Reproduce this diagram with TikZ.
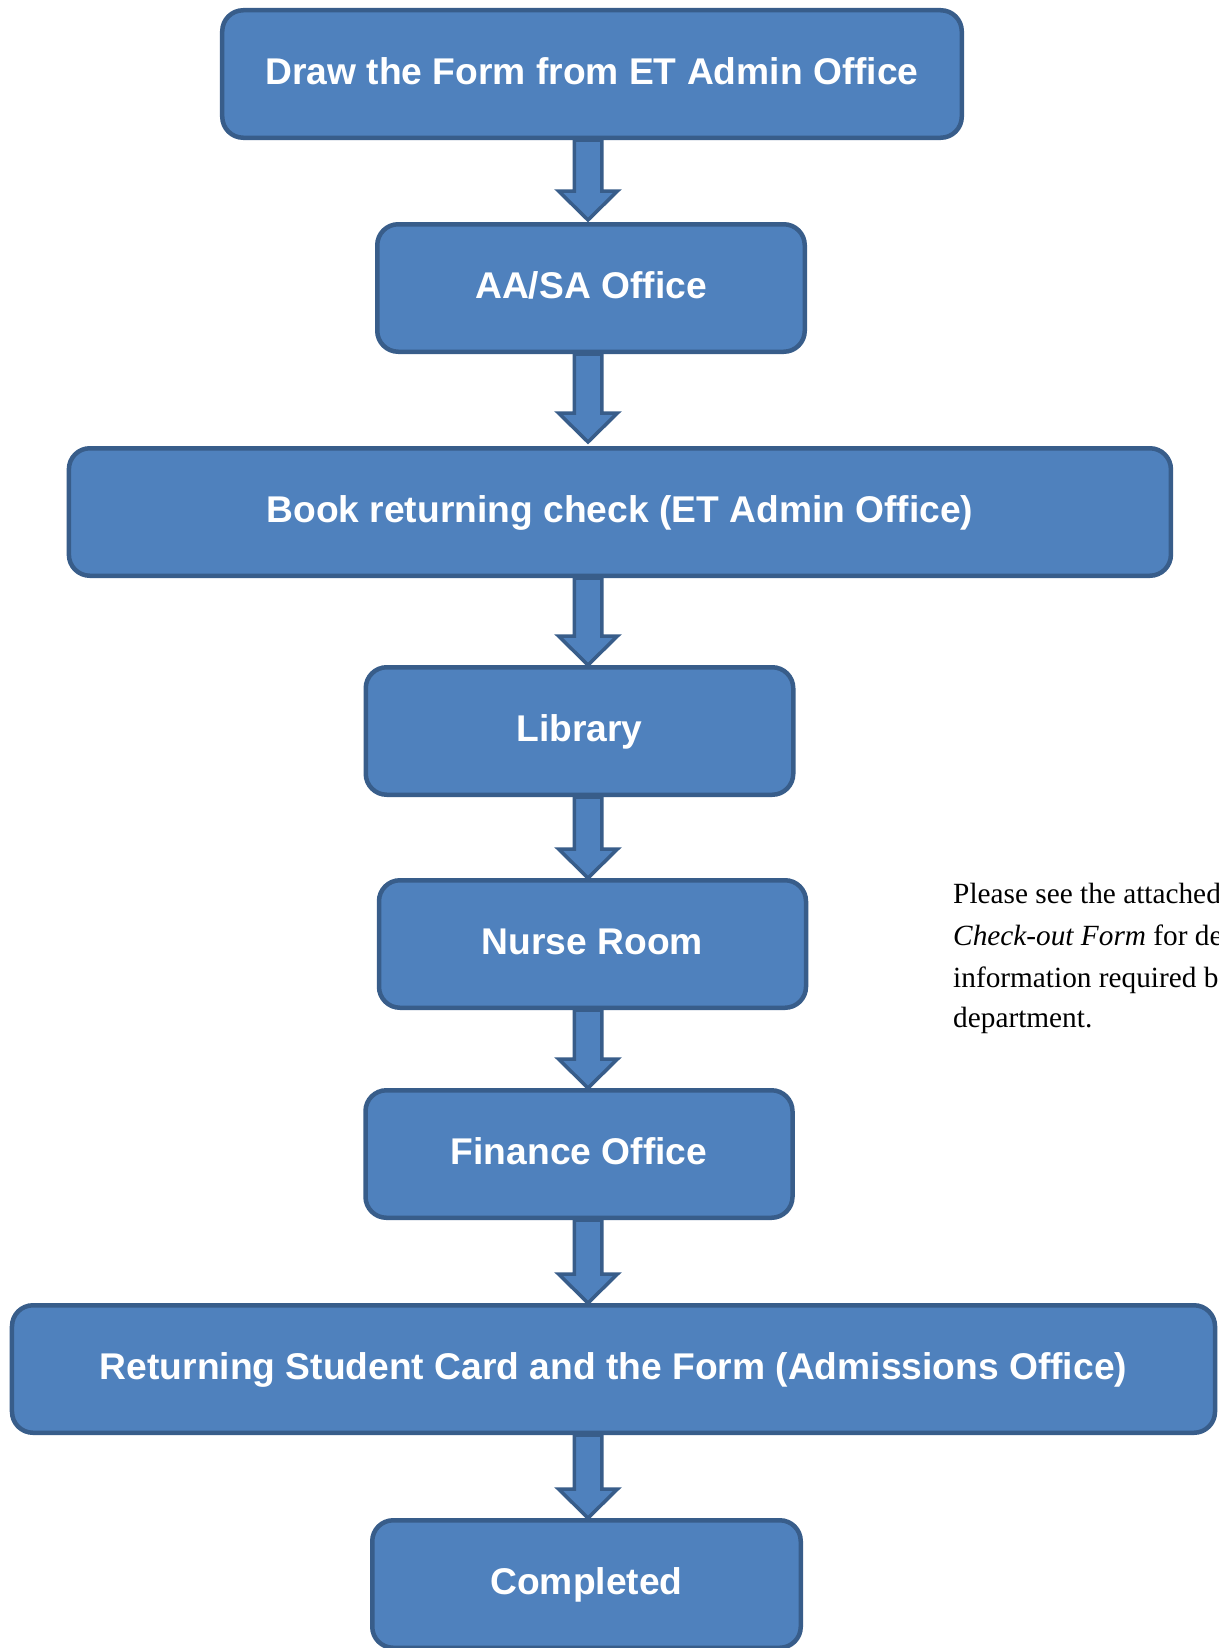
\documentclass[tikz,border=0pt]{standalone}
\usepackage{fontspec}
\setmainfont{Liberation Serif}
\newfontfamily\boxfont{Liberation Sans}
\usetikzlibrary{calc}
\definecolor{boxfill}{HTML}{4F81BD}
\definecolor{boxline}{HTML}{385D8A}
\tikzset{
  flowbox/.style={draw=boxline, fill=boxfill, line width=4.5bp, rounded corners=21bp,
    minimum height=127.5bp, inner sep=0pt, text=white,
    font=\boxfont\bfseries\fontsize{37.2bp}{44bp}\selectfont,
    text height=26.6bp, text depth=6bp},
  blockarrow/.style={draw=boxline, fill=boxfill, line width=3.5bp, line join=miter},
  note/.style={anchor=base west, inner sep=0pt, font=\fontsize{29.3bp}{41bp}\selectfont}
}
\newcommand\flowarrow[3]{%
  \path[blockarrow] let \p1=(#1.south -| ax), \p2=(#2.north) in
    ({\x1-13.75bp},\y1) -- ({\x1+13.75bp},\y1) -- ({\x1+13.75bp},{\y2+29bp+#3})
    -- ({\x1+29.5bp},{\y2+29bp+#3}) -- (\x1,{\y2+#3}) -- ({\x1-29.5bp},{\y2+29bp+#3})
    -- ({\x1-13.75bp},{\y2+29bp+#3}) -- cycle;}
\begin{document}
\begin{tikzpicture}[x=1bp,y=-1bp]
\clip (0,0) rectangle (1218,1648);
\fill[white] (0,0) rectangle (1218,1648);
\coordinate (ax) at (588,0);
\node[flowbox, minimum width=739.5bp] (b1) at (592,74) {Draw the Form from ET Admin Office};
\node[flowbox, minimum width=427.5bp] (b2) at (591,288) {AA/SA Office};
\node[flowbox, minimum width=1102bp] (b3) at (619.9,512) {Book returning check (ET Admin Office)};
\node[flowbox, minimum width=427.5bp] (b4) at (579.5,731) {Library};
\node[flowbox, minimum width=427bp] (b5) at (592.5,944) {Nurse Room};
\node[flowbox, minimum width=427bp] (b6) at (579,1154) {Finance Office};
\node[flowbox, minimum width=1203bp] (b7) at (613.5,1369) {Returning Student Card and the Form (Admissions Office)};
\node[flowbox, minimum width=428.5bp] (b8) at (586.5,1584) {Completed};
\flowarrow{b1}{b2}{2bp}
\flowarrow{b2}{b3}{4bp}
\flowarrow{b3}{b4}{0bp}
\flowarrow{b4}{b5}{0bp}
\flowarrow{b5}{b6}{0bp}
\flowarrow{b6}{b7}{0bp}
\flowarrow{b7}{b8}{0bp}
\node[note] (t1) at (953,903) {Please see the attached};
\node[note] (t2) at (953,945) {\textit{Check-out Form} for de};
\node[note] (t3) at (953,987) {information required b};
\node[note] (t4) at (953,1027) {department.};
\end{tikzpicture}
\end{document}
